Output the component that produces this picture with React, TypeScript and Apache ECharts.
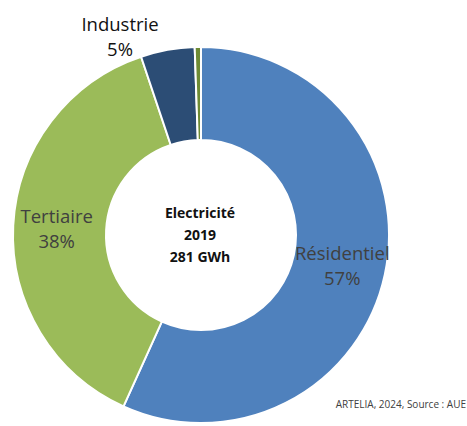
import React, { useEffect, useRef } from "react";
import * as echarts from "echarts";

const categories = ["Résidentiel", "Tertiaire", "Industrie", "Agriculture"];
const valuesGWh = [159.5, 107, 13, 1.5];
const sliceColors = ["#4F81BD", "#9BBB59", "#2C4D75", "#6E8B34"];
const centerLines = ["Electricité", "2019", "281 GWh"];
const sourceText = "ARTELIA, 2024, Source : AUE";

export default function App() {
  const ref = useRef<HTMLDivElement>(null);
  useEffect(() => {
    document.body.style.margin = "0";
    const chart = echarts.init(ref.current!, null, { renderer: "svg" });
    const font = "'Open Sans', sans-serif";
    chart.setOption({
      animation: false,
      backgroundColor: "#ffffff",
      graphic: [
        {
          type: "text",
          left: 200 - 60,
          top: 201,
          style: {
            text: centerLines.join("\n"),
            font: `bold 14px ${font}`,
            fill: "#111111",
            textAlign: "center",
            lineHeight: 22,
            width: 120,
          },
        },
        {
          type: "text",
          right: 1,
          top: 399,
          style: {
            text: sourceText,
            font: `10px ${font}`,
            fill: "#404040",
          },
        },
      ],
      series: [
        {
          type: "pie",
          center: [201, 235],
          radius: [95, 188],
          startAngle: 90,
          clockwise: true,
          avoidLabelOverlap: false,
          itemStyle: { borderColor: "#ffffff", borderWidth: 2 },
          label: {
            show: true,
            position: "inside",
            color: "#404040",
            fontFamily: font,
            fontSize: 18.5,
            lineHeight: 25,
            align: "center",
            formatter: (p: any) => `${p.name}\n${Math.round(p.percent)}%`,
          },
          labelLine: { show: false },
          labelLayout: (p: any) => {
            if (p.dataIndex === 2) {
              return { x: 120, y: 36, align: "center", verticalAlign: "middle" };
            }
            return {};
          },
          emphasis: { disabled: true },
          data: categories.map((name, i) => ({
            name,
            value: valuesGWh[i],
            itemStyle: { color: sliceColors[i] },
            label:
              i === 2
                ? { show: true, position: "outside", color: "#111111" }
                : i === 3
                ? { show: false }
                : undefined,
            labelLine: { show: false },
          })),
        },
      ],
    });
    return () => chart.dispose();
  }, []);
  return <div ref={ref} style={{ width: 467, height: 426 }} />;
}
